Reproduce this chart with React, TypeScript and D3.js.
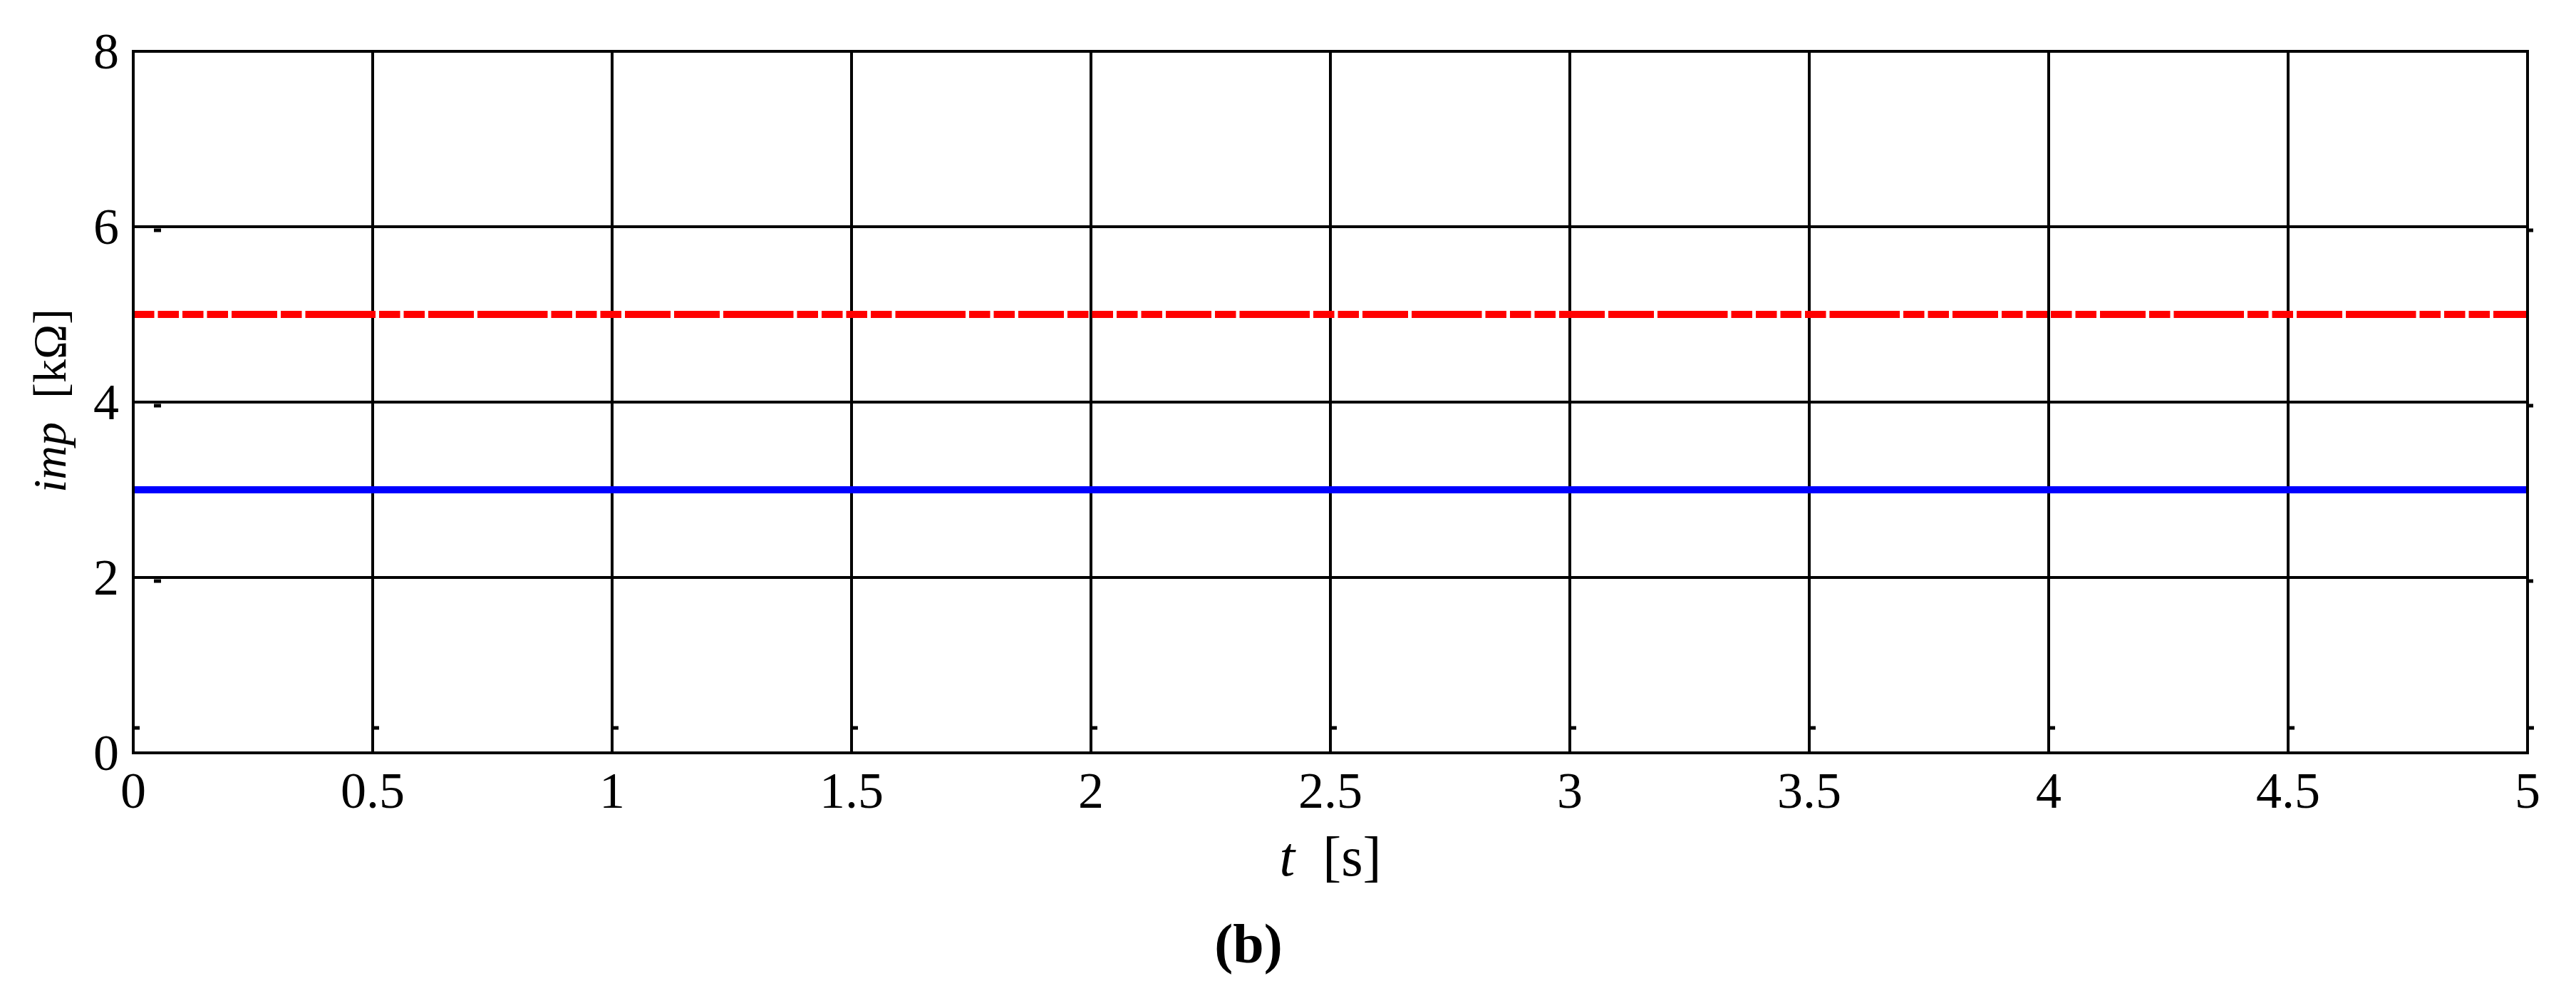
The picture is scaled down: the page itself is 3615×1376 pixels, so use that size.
import React from "react";
import * as d3 from "d3";

const xTicks = [0, 0.5, 1, 1.5, 2, 2.5, 3, 3.5, 4, 4.5, 5];
const xTickLabels = ["0", "0.5", "1", "1.5", "2", "2.5", "3", "3.5", "4", "4.5", "5"];
const yTicks = [0, 2, 4, 6, 8];
const yTickLabels = ["0", "2", "4", "6", "8"];
const tValues = [0, 5];
const impRed = [5, 5];
const impBlue = [3, 3];

const W = 3615;
const H = 1376;
const FONT = "'Liberation Serif', 'Times New Roman', serif";

// dash rendering of the red line: run lengths in dash units (style only)
const dashUnits = [1, 1, 1, 1, 2, 1, 3, 1, 1, 2, 3, 1, 1, 1, 2, 2, 3, 1, 1, 1, 1, 3, 1, 1, 2];
const UNIT = 34.5;
const GAP = 5;
const dashArray = dashUnits.map((n) => `${n * UNIT - GAP},${GAP}`).join(",");

export default function App() {
  const x = d3.scaleLinear().domain([0, 5]).range([187, 3547]);
  const y = d3.scaleLinear().domain([0, 8]).range([1056, 72]);
  const line = d3
    .line<number>()
    .x((_, i) => x(tValues[i]))
    .y((d) => y(d));

  const x0 = x(0);
  const x1 = x(5);
  const y0 = y(0);
  const y1 = y(8);

  return (
    <svg
      width={W}
      height={H}
      style={{ position: "absolute", left: 0, top: 0, display: "block", background: "#fff" }}
      fontFamily={FONT}
    >
      <rect x={0} y={0} width={W} height={H} fill="#fff" />
      {/* grid */}
      {xTicks.map((t) => (
        <line key={"gx" + t} x1={x(t)} x2={x(t)} y1={y1} y2={y0} stroke="#000" strokeWidth={4} />
      ))}
      {yTicks.map((v) => (
        <line key={"gy" + v} x1={x0} x2={x1} y1={y(v)} y2={y(v)} stroke="#000" strokeWidth={4} />
      ))}
      {/* tick marks */}
      {xTicks.map((t) => (
        <line key={"tx" + t} x1={x(t)} x2={x(t) + 9} y1={y0 - 35} y2={y0 - 35} stroke="#000" strokeWidth={5} />
      ))}
      {yTicks.slice(1, 4).map((v) => (
        <line key={"ty" + v} x1={x0 + 29} x2={x0 + 39} y1={y(v) + 5} y2={y(v) + 5} stroke="#000" strokeWidth={5} />
      ))}
      {yTicks.slice(1, 4).map((v) => (
        <line key={"tyr" + v} x1={x1} x2={x1 + 8} y1={y(v) + 5} y2={y(v) + 5} stroke="#000" strokeWidth={5} />
      ))}
      {/* series */}
      <path d={line(impBlue) || ""} fill="none" stroke="#0000ff" strokeWidth={10} />
      <path d={line(impRed) || ""} fill="none" stroke="#ff0000" strokeWidth={10} strokeDasharray={dashArray} />
      {/* frame */}
      <rect x={x0} y={y1} width={x1 - x0} height={y0 - y1} fill="none" stroke="#000" strokeWidth={4} />
      {/* tick labels */}
      {xTicks.map((t, i) => (
        <text key={"lx" + t} x={x(t)} y={1133} fontSize={72} textAnchor="middle" fill="#000">
          {xTickLabels[i]}
        </text>
      ))}
      {yTicks.map((v, i) => (
        <text key={"ly" + v} x={167} y={y(v) + 24} fontSize={72} textAnchor="end" fill="#000">
          {yTickLabels[i]}
        </text>
      ))}
      {/* axis labels */}
      <text x={(x0 + x1) / 2} y={1228} fontSize={78} textAnchor="middle" fill="#000">
        <tspan fontStyle="italic">t</tspan>
        <tspan>{"\u00a0 [s]"}</tspan>
      </text>
      <text
        transform={`translate(92, 562) rotate(-90)`}
        fontSize={66}
        textAnchor="middle"
        fill="#000"
      >
        <tspan fontStyle="italic">imp</tspan>
        <tspan>{"\u00a0 [kΩ]"}</tspan>
      </text>
      <text x={1752} y={1350} fontSize={78} fontWeight="bold" textAnchor="middle" fill="#000">
        (b)
      </text>
    </svg>
  );
}
